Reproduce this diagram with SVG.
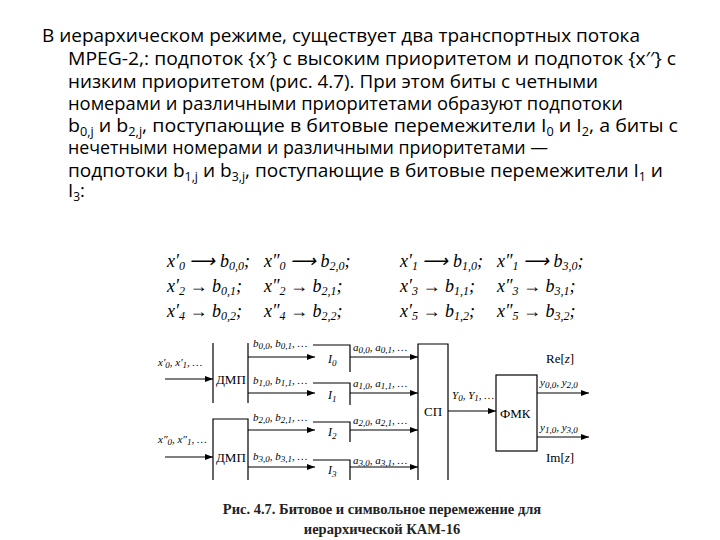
<svg xmlns="http://www.w3.org/2000/svg" width="720" height="540" viewBox="0 0 720 540">
<defs>
<marker id="ah" markerWidth="8" markerHeight="6" refX="8" refY="3" orient="auto" markerUnits="userSpaceOnUse"><path d="M0,0 L8,3 L0,6 Z" fill="#000"/></marker>
</defs>
<style>
.p{font-family:"Open Sans","Liberation Sans",sans-serif;font-size:18.5px;fill:#000}
.m{font-family:"Liberation Serif",serif;font-style:italic;font-size:18px;fill:#000}
.il{font-family:"Liberation Serif",serif;font-style:italic;font-size:12px;fill:#000}
.s{font-family:"Liberation Serif",serif;font-style:italic;font-size:9px;fill:#000}
.b{font-family:"Liberation Serif",serif;font-size:13px;fill:#000}
.c{font-family:"Liberation Serif",serif;font-size:14.5px;font-weight:bold;fill:#222}
.ln{stroke:#000;stroke-width:1.2;fill:none}
.ar{stroke:#000;stroke-width:1.2;fill:none;marker-end:url(#ah)}
</style>
<rect width="720" height="540" fill="#fff"/>
<g id="paragraph" class="p">
<text x="42" y="42" textLength="598" lengthAdjust="spacingAndGlyphs">В иерархическом режиме, существует два транспортных потока</text>
<text x="68" y="65" textLength="608" lengthAdjust="spacingAndGlyphs">MPEG-2,: подпоток {x′} с высоким приоритетом и подпоток {x′′} с</text>
<text x="68" y="88" textLength="530" lengthAdjust="spacingAndGlyphs">низким приоритетом (рис. 4.7). При этом биты с четными</text>
<text x="68" y="110" textLength="555" lengthAdjust="spacingAndGlyphs">номерами и различными приоритетами образуют подпотоки</text>
<text x="68" y="132" textLength="610" lengthAdjust="spacingAndGlyphs">b<tspan font-size="12" dy="4">0,j</tspan><tspan dy="-4"> и b</tspan><tspan font-size="12" dy="4">2,j</tspan><tspan dy="-4">, поступающие в битовые перемежители I</tspan><tspan font-size="12" dy="4">0</tspan><tspan dy="-4"> и I</tspan><tspan font-size="12" dy="4">2</tspan><tspan dy="-4">, а биты с</tspan></text>
<text x="68" y="154" textLength="480" lengthAdjust="spacingAndGlyphs">нечетными номерами и различными приоритетами —</text>
<text x="68" y="177" textLength="595" lengthAdjust="spacingAndGlyphs">подпотоки b<tspan font-size="12" dy="4">1,j</tspan><tspan dy="-4"> и b</tspan><tspan font-size="12" dy="4">3,j</tspan><tspan dy="-4">, поступающие в битовые перемежители I</tspan><tspan font-size="12" dy="4">1</tspan><tspan dy="-4"> и</tspan></text>
<text x="68" y="197">I<tspan font-size="12" dy="4">3</tspan><tspan dy="-4">:</tspan></text>
</g>
<g id="equations" class="m">
<text x="167" y="267">x′<tspan font-size="12" dy="3">0</tspan><tspan dy="-3"> ⟶ b</tspan><tspan font-size="12" dy="3">0,0</tspan><tspan dy="-3">;</tspan></text>
<text x="167" y="292">x′<tspan font-size="12" dy="3">2</tspan><tspan dy="-3"> → b</tspan><tspan font-size="12" dy="3">0,1</tspan><tspan dy="-3">;</tspan></text>
<text x="167" y="317">x′<tspan font-size="12" dy="3">4</tspan><tspan dy="-3"> → b</tspan><tspan font-size="12" dy="3">0,2</tspan><tspan dy="-3">;</tspan></text>
<text x="264" y="267">x″<tspan font-size="12" dy="3">0</tspan><tspan dy="-3"> ⟶ b</tspan><tspan font-size="12" dy="3">2,0</tspan><tspan dy="-3">;</tspan></text>
<text x="264" y="292">x″<tspan font-size="12" dy="3">2</tspan><tspan dy="-3"> → b</tspan><tspan font-size="12" dy="3">2,1</tspan><tspan dy="-3">;</tspan></text>
<text x="264" y="317">x″<tspan font-size="12" dy="3">4</tspan><tspan dy="-3"> → b</tspan><tspan font-size="12" dy="3">2,2</tspan><tspan dy="-3">;</tspan></text>
<text x="400" y="267">x′<tspan font-size="12" dy="3">1</tspan><tspan dy="-3"> ⟶ b</tspan><tspan font-size="12" dy="3">1,0</tspan><tspan dy="-3">;</tspan></text>
<text x="400" y="292">x′<tspan font-size="12" dy="3">3</tspan><tspan dy="-3"> → b</tspan><tspan font-size="12" dy="3">1,1</tspan><tspan dy="-3">;</tspan></text>
<text x="400" y="317">x′<tspan font-size="12" dy="3">5</tspan><tspan dy="-3"> → b</tspan><tspan font-size="12" dy="3">1,2</tspan><tspan dy="-3">;</tspan></text>
<text x="497" y="267">x″<tspan font-size="12" dy="3">1</tspan><tspan dy="-3"> ⟶ b</tspan><tspan font-size="12" dy="3">3,0</tspan><tspan dy="-3">;</tspan></text>
<text x="497" y="292">x″<tspan font-size="12" dy="3">3</tspan><tspan dy="-3"> → b</tspan><tspan font-size="12" dy="3">3,1</tspan><tspan dy="-3">;</tspan></text>
<text x="497" y="317">x″<tspan font-size="12" dy="3">5</tspan><tspan dy="-3"> → b</tspan><tspan font-size="12" dy="3">3,2</tspan><tspan dy="-3">;</tspan></text>
</g>
<g id="dmp1"><path class="ln" d="M213,343 V403 M248,343 V403"/><text class="b" x="216" y="384">ДМП</text></g>
<g id="dmp2"><path class="ln" d="M213,480 V419 H248 V480"/><text class="b" x="216" y="462">ДМП</text></g>
<g id="i0"><path class="ln" d="M313,345 H350 V372"/><text class="il" x="328" y="363">I<tspan class="s" dy="3">0</tspan></text></g>
<g id="i1"><path class="ln" d="M313,383 H350 V405"/><text class="il" x="328" y="399">I<tspan class="s" dy="3">1</tspan></text></g>
<g id="i2"><path class="ln" d="M313,422 H350 V442"/><text class="il" x="328" y="436">I<tspan class="s" dy="3">2</tspan></text></g>
<g id="i3"><path class="ln" d="M313,460 H350 V480"/><text class="il" x="328" y="474">I<tspan class="s" dy="3">3</tspan></text></g>
<g id="sp"><path class="ln" d="M418,480 V344 H448 V480"/><text class="b" x="424" y="416">СП</text></g>
<g id="fmk"><rect class="ln" x="496" y="375" width="41" height="76"/><text class="b" x="500" y="418" font-size="12">ФМК</text></g>
<g id="connectors">
<path class="ar" d="M165,379 H213"/>
<path class="ar" d="M165,457 H213"/>
<path class="ar" d="M248,357 H315"/>
<path class="ar" d="M248,393 H315"/>
<path class="ar" d="M248,430 H315"/>
<path class="ar" d="M248,467 H315"/>
<path class="ar" d="M350,357 H418"/>
<path class="ar" d="M350,393 H418"/>
<path class="ar" d="M350,430 H418"/>
<path class="ar" d="M350,467 H418"/>
<path class="ar" d="M448,411 H496"/>
<path class="ar" d="M537,393 H589"/>
<path class="ar" d="M537,437 H589"/>
</g>
<g id="labels" class="m">
<text x="158" y="366" font-size="11">x′<tspan class="s" dy="2">0</tspan><tspan dy="-2">, x′</tspan><tspan class="s" dy="2">1</tspan><tspan dy="-2">, …</tspan></text>
<text x="158" y="443" font-size="11">x″<tspan class="s" dy="2">0</tspan><tspan dy="-2">, x″</tspan><tspan class="s" dy="2">1</tspan><tspan dy="-2">, …</tspan></text>
<text x="253" y="347" font-size="11">b<tspan class="s" dy="2">0,0</tspan><tspan dy="-2">, b</tspan><tspan class="s" dy="2">0,1</tspan><tspan dy="-2">, …</tspan></text>
<text x="253" y="384" font-size="11">b<tspan class="s" dy="2">1,0</tspan><tspan dy="-2">, b</tspan><tspan class="s" dy="2">1,1</tspan><tspan dy="-2">, …</tspan></text>
<text x="253" y="421" font-size="11">b<tspan class="s" dy="2">2,0</tspan><tspan dy="-2">, b</tspan><tspan class="s" dy="2">2,1</tspan><tspan dy="-2">, …</tspan></text>
<text x="253" y="460" font-size="11">b<tspan class="s" dy="2">3,0</tspan><tspan dy="-2">, b</tspan><tspan class="s" dy="2">3,1</tspan><tspan dy="-2">, …</tspan></text>
<text x="353" y="351" font-size="11">a<tspan class="s" dy="2">0,0</tspan><tspan dy="-2">, a</tspan><tspan class="s" dy="2">0,1</tspan><tspan dy="-2">, …</tspan></text>
<text x="353" y="387" font-size="11">a<tspan class="s" dy="2">1,0</tspan><tspan dy="-2">, a</tspan><tspan class="s" dy="2">1,1</tspan><tspan dy="-2">, …</tspan></text>
<text x="353" y="424" font-size="11">a<tspan class="s" dy="2">2,0</tspan><tspan dy="-2">, a</tspan><tspan class="s" dy="2">2,1</tspan><tspan dy="-2">, …</tspan></text>
<text x="353" y="464" font-size="11">a<tspan class="s" dy="2">3,0</tspan><tspan dy="-2">, a</tspan><tspan class="s" dy="2">3,1</tspan><tspan dy="-2">, …</tspan></text>
<text x="452" y="399" font-size="11">Y<tspan class="s" dy="2">0</tspan><tspan dy="-2">, Y</tspan><tspan class="s" dy="2">1</tspan><tspan dy="-2">, …</tspan></text>
<text x="540" y="386" font-size="11">y<tspan class="s" dy="2">0,0</tspan><tspan dy="-2">, y</tspan><tspan class="s" dy="2">2,0</tspan></text>
<text x="540" y="431" font-size="11">y<tspan class="s" dy="2">1,0</tspan><tspan dy="-2">, y</tspan><tspan class="s" dy="2">3,0</tspan></text>
<text class="b" x="546" y="363" font-size="12" font-style="normal">Re[<tspan font-style="italic">z</tspan>]</text>
<text class="b" x="546" y="462" font-size="12" font-style="normal">Im[<tspan font-style="italic">z</tspan>]</text>
</g>
<g id="caption" class="c" text-anchor="middle">
<text x="382" y="514">Рис. 4.7. Битовое и символьное перемежение для</text>
<text x="382" y="534">иерархической КАМ-16</text>
</g>
</svg>
